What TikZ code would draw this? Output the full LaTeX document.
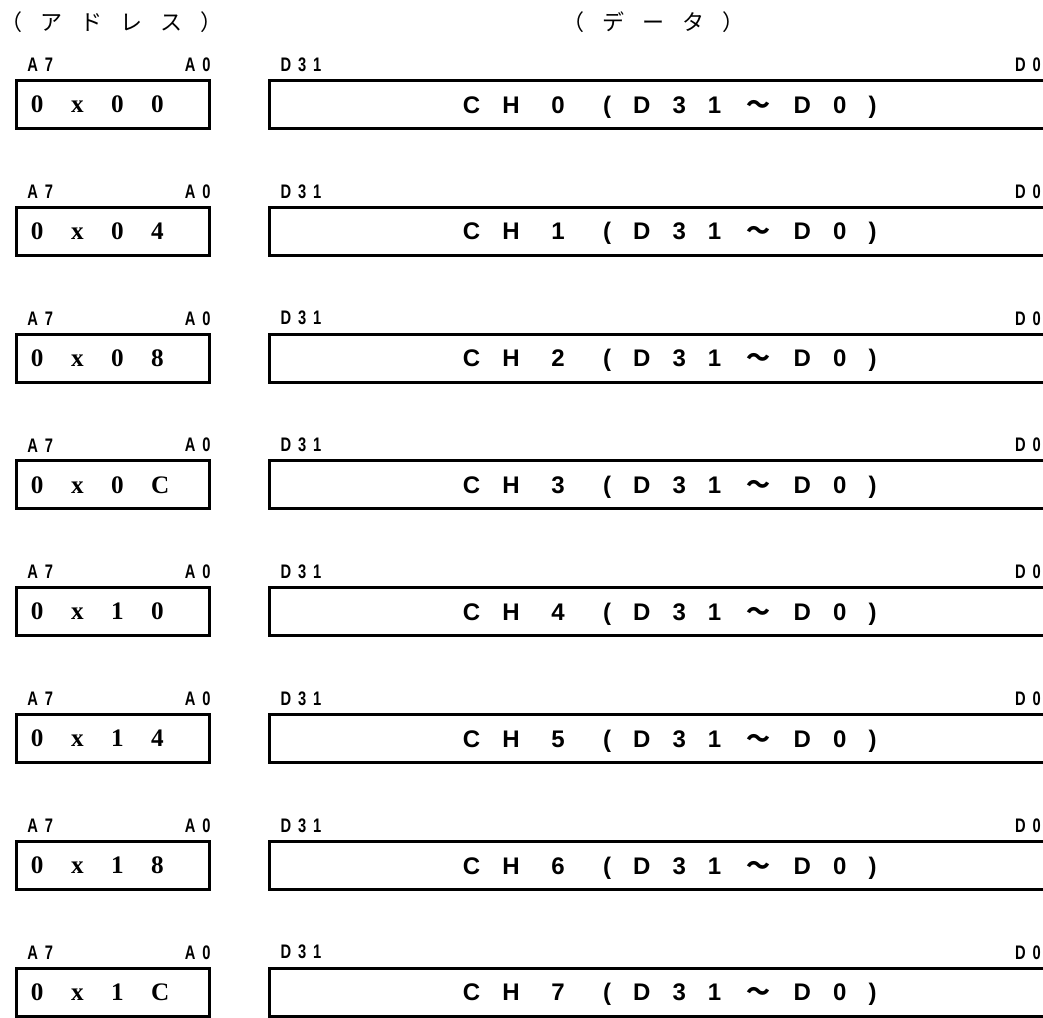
\documentclass[tikz,border=0pt]{standalone}
\usepackage{fontspec}
\setmainfont{Liberation Serif}
\newfontfamily\hexfont[LetterSpace=109]{Liberation Serif}
\newfontfamily\chfont[LetterSpace=92]{Liberation Sans}
\newfontfamily\bitfont[LetterSpace=35,FakeStretch=0.75]{Liberation Sans}
\newfontfamily\cjk{Noto Sans CJK JP}
\newfontfamily\titlefont[LetterSpace=82]{Noto Sans CJK JP}
\usetikzlibrary{positioning}
\newcommand{\tildech}{\hspace{12.5pt}{\cjk\bfseries ～}\hspace{11.7pt}}
\tikzset{
  addrbox/.style={rectangle, draw, line width=1.5pt, minimum width=96.5pt,
    minimum height=24pt, inner xsep=7.25pt, inner ysep=0pt, text width=82pt,
    align=left, font=\hexfont\bfseries\fontsize{12.6}{14}\selectfont},
  databox/.style={rectangle, draw, line width=1.5pt, minimum width=400pt,
    minimum height=24pt, inner sep=0pt, text depth=0pt,
    font=\chfont\bfseries\fontsize{12}{14}\selectfont},
  bitlbl/.style={inner sep=0pt, font=\bitfont\bfseries\fontsize{9.8}{11}\selectfont},
  titlelbl/.style={inner sep=0pt, font=\titlefont\fontsize{11}{13}\selectfont}
}
\begin{document}
\begin{tikzpicture}[x=0.5pt, y=-0.5pt]
  \useasboundingbox (0,0) rectangle (1043,1017);
  \clip (0,0) rectangle (1043,1017);
  % headings
  \node[titlelbl, anchor=west] (addrhead) at (0,22) {（アドレス）};
  \node[titlelbl, anchor=west] (datahead) at (562,22) {（データ）};
  % one row per channel
  \foreach \addr [count=\n from 0, evaluate=\n as \yy using {104.5+126.8*\n}] in {00,04,08,0C,10,14,18,1C}{
    \node[addrbox] (addr\n) at (113,\yy) {0x\addr};
    \node[databox] (data\n) at (669.75,\yy) {CH\hspace{15.8pt}\n\hspace{19.2pt}(D31\tildech D0)};
    \node[bitlbl, above right=3.5pt and 6pt of addr\n.north west] (amsb\n) {A7};
    \node[bitlbl, above left=3.5pt and 0pt of addr\n.north east] (alsb\n) {A0};
    \node[bitlbl, above right=3.5pt and 6pt of data\n.north west] (dmsb\n) {D31};
    \node[bitlbl, above left=3.5pt and 15pt of data\n.north east] (dlsb\n) {D0};
  }
\end{tikzpicture}
\end{document}
